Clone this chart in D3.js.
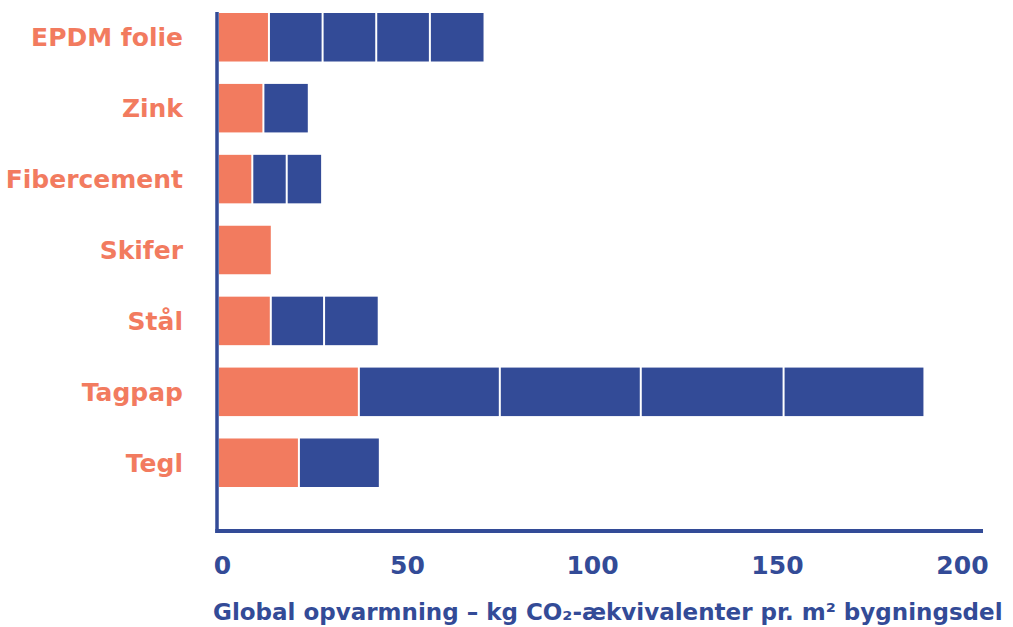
<!DOCTYPE html>
<html>
<head>
<meta charset="utf-8">
<script src="https://cdn.jsdelivr.net/npm/d3@7"></script>
<style>
  html, body { margin: 0; padding: 0; background: #fff; }
  svg { display: block; }
  text { font-family: "DejaVu Sans", sans-serif; font-weight: bold; }
</style>
</head>
<body>
<div id="chart"></div>
<script>
// Roofing materials, top to bottom
const categories = ['EPDM folie', 'Zink', 'Fibercement', 'Skifer', 'Stål', 'Tagpap', 'Tegl'];

// First segment (orange) per material
const firstValues = [13.5, 12, 9, 14, 14, 37.8, 21.6];

// Following segments (blue) per material
const laterValues = [
    [14.5, 14.5, 14.5, 14.5],
    [12],
    [9.3, 9.3],
    [],
    [14.4, 14.5],
    [38.1, 38.1, 38.6, 37.8],
    [21.6]
];

const xTicks = [0, 50, 100, 150, 200];
const xTitle = 'Global opvarmning – kg CO₂-ækvivalenter pr. m² bygningsdel';

const orange = '#f27b5f';
const blue = '#334b97';

const width = 1013;
const height = 627;

const svg = d3.select('#chart')
    .append('svg')
    .attr('width', width)
    .attr('height', height);

const x = d3.scaleLinear()
    .domain([0, 206.5])
    .range([219, 983]);

const y = d3.scaleBand()
    .domain(categories)
    .range([13, 487])
    .paddingInner(0.316)
    .paddingOuter(0);

// Build segments: each one knows its start, end and colour
const segments = [];
categories.forEach((cat, i) => {
    const vals = [firstValues[i]].concat(laterValues[i]);
    let start = 0;
    vals.forEach((v, j) => {
        segments.push({
            cat: cat,
            start: start,
            end: start + v,
            first: j === 0,
            last: j === vals.length - 1
        });
        start += v;
    });
});

svg.selectAll('.seg')
    .data(segments)
    .enter()
    .append('rect')
    .attr('class', 'seg')
    .attr('x', d => x(d.start) + (d.first ? 0 : 1))
    .attr('y', d => y(d.cat))
    .attr('width', d => x(d.end) - x(d.start) - (d.first ? 0 : 1) - (d.last ? 0 : 1))
    .attr('height', y.bandwidth())
    .attr('fill', d => d.first ? orange : blue);

// Axis lines
svg.append('line')
    .attr('x1', 217).attr('x2', 217)
    .attr('y1', 12).attr('y2', 533)
    .attr('stroke', blue)
    .attr('stroke-width', 3.5);

svg.append('line')
    .attr('x1', 215.3).attr('x2', x.range()[1])
    .attr('y1', 531).attr('y2', 531)
    .attr('stroke', blue)
    .attr('stroke-width', 4);

// Category labels
svg.selectAll('.cat-label')
    .data(categories)
    .enter()
    .append('text')
    .attr('class', 'cat-label')
    .attr('x', 183)
    .attr('y', d => y(d) + y.bandwidth() / 2)
    .attr('dy', '0.36em')
    .attr('text-anchor', 'end')
    .attr('font-size', '25px')
    .attr('fill', orange)
    .text(d => d);

// Tick labels via d3 axis
const xAxis = svg.append('g')
    .attr('transform', 'translate(3,556)')
    .call(d3.axisBottom(x).tickValues(xTicks).tickSize(0).tickPadding(0).tickFormat(d3.format('d')));

xAxis.select('.domain').remove();
xAxis.selectAll('text')
    .attr('font-family', '"DejaVu Sans", sans-serif')
    .attr('font-weight', 'bold')
    .attr('font-size', '25px')
    .attr('fill', blue)
    .attr('dy', '0.71em');

// Axis title
svg.append('text')
    .attr('x', 213)
    .attr('y', 620)
    .attr('font-size', '23px')
    .attr('fill', blue)
    .text(xTitle);
</script>
</body>
</html>
